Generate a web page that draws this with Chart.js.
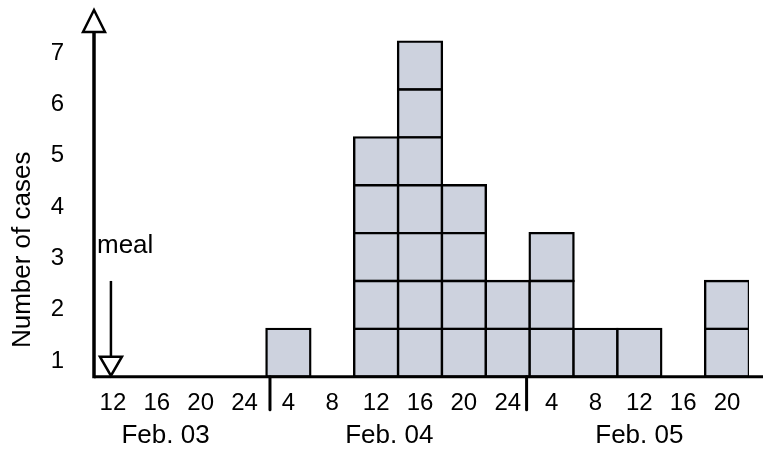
<!DOCTYPE html>
<html>
<head>
<meta charset="utf-8">
<script src="https://cdn.jsdelivr.net/npm/chart.js@4.4.1/dist/chart.umd.min.js"></script>
<style>
  html, body { margin: 0; padding: 0; background: #fff; }
  #wrap { width: 763px; height: 458px; }
</style>
</head>
<body>
<div id="wrap"><canvas id="c" width="763" height="458"></canvas></div>
<script>
// ---- data ----
const hourLabels = ['12','16','20','24','4','8','12','16','20','24','4','8','12','16','20'];
const caseCounts = [0, 0, 0, 0, 1, 0, 5, 7, 4, 2, 3, 1, 1, 0, 2];
const yTickLabels = [1, 2, 3, 4, 5, 6, 7];
const dayLabels = ['Feb. 03', 'Feb. 04', 'Feb. 05'];
const dayLabelPos = [1.2, 6.3, 12.0];
const dayBreaks = [3.58, 9.43];
const mealBin = 0;
const mealArrowTop = 2;
const mealTextY = 2.58;
const yTitle = 'Number of cases';
const yTitleAt = 2.65;

const maxCases = Math.max(...caseCounts);
const layers = [];
for (let k = 1; k <= maxCases; k++) {
  layers.push({
    label: 'case ' + k,
    data: caseCounts.map(c => (c >= k ? 1 : null)),
    xAxisID: 'x',
    yAxisID: 'y',
    backgroundColor: '#CDD2DE',
    borderColor: '#000',
    borderWidth: 2.4,
    inflateAmount: 1.2,
    borderSkipped: false,
    barPercentage: 1,
    categoryPercentage: 1
  });
}

const FONT = '"Liberation Sans", Arial, sans-serif';
Chart.defaults.font.family = FONT;
Chart.defaults.color = '#000';

function tri(ctx, cx, baseY, apexY, hw) {
  ctx.beginPath();
  ctx.moveTo(cx - hw, baseY);
  ctx.lineTo(cx + hw, baseY);
  ctx.lineTo(cx, apexY);
  ctx.closePath();
  ctx.fillStyle = '#fff';
  ctx.fill();
  ctx.stroke();
}

const deco = {
  id: 'deco',
  afterDatasetsDraw(chart) {
    const { ctx, chartArea: a, scales } = chart;
    const x = scales.x, y = scales.y;
    const base = y.getPixelForValue(0);
    const ax = a.left + 3;
    ctx.save();
    ctx.strokeStyle = '#000';
    ctx.lineJoin = 'miter';
    // x baseline
    ctx.lineWidth = 3;
    ctx.lineCap = 'butt';
    ctx.beginPath(); ctx.moveTo(ax, base); ctx.lineTo(chart.width, base); ctx.stroke();
    // midnight tick marks
    ctx.lineCap = 'round';
    dayBreaks.forEach(v => {
      const px = x.getPixelForValue(v);
      ctx.beginPath(); ctx.moveTo(px, base); ctx.lineTo(px, base + 33); ctx.stroke();
    });
    // y axis with open arrow head
    ctx.lineCap = 'butt';
    ctx.lineWidth = 3.5;
    ctx.beginPath(); ctx.moveTo(ax, base + 1.5); ctx.lineTo(ax, a.top); ctx.stroke();
    ctx.lineWidth = 2.5;
    tri(ctx, ax, a.top, a.top - 22, 11);
    // meal arrow
    const mx = x.getPixelForValue(mealBin) - 2;
    ctx.lineWidth = 2.5;
    ctx.beginPath(); ctx.moveTo(mx, y.getPixelForValue(mealArrowTop)); ctx.lineTo(mx, base - 20); ctx.stroke();
    tri(ctx, mx, base - 20, base - 1, 11);
    // texts
    ctx.fillStyle = '#000';
    ctx.font = '26px ' + FONT;
    ctx.textBaseline = 'alphabetic';
    ctx.textAlign = 'left';
    ctx.fillText('meal', ax + 3, y.getPixelForValue(mealTextY));
    ctx.textAlign = 'center';
    dayLabels.forEach((t, i) => {
      ctx.fillText(t, x.getPixelForValue(dayLabelPos[i]), base + 66.3);
    });
    ctx.translate(23, y.getPixelForValue(yTitleAt));
    ctx.rotate(-Math.PI / 2);
    ctx.textAlign = 'center';
    ctx.textBaseline = 'middle';
    ctx.fillText(yTitle, 0, 0);
    ctx.restore();
  }
};

new Chart(document.getElementById('c'), {
  type: 'bar',
  data: { labels: hourLabels, datasets: layers },
  plugins: [deco],
  options: {
    responsive: false,
    animation: false,
    layout: { padding: { top: 32, right: 14, bottom: 7.3, left: 0 } },
    plugins: { legend: { display: false }, tooltip: { enabled: false } },
    scales: {
      x: {
        type: 'category',
        stacked: true,
        offset: true,
        grid: { display: false, drawTicks: false },
        border: { display: false },
        ticks: { font: { size: 24 }, padding: 12, maxRotation: 0, autoSkip: false, color: '#000' },
        afterFit: s => { s.height = 74; }
      },
      y: {
        type: 'linear',
        position: 'left',
        stacked: true,
        min: 0,
        max: 7.2,
        grid: { display: false, drawTicks: false },
        border: { display: false },
        ticks: { display: false },
        afterFit: s => { s.width = 27; }
      },
      yLab: {
        type: 'linear',
        position: 'left',
        min: 0.695,
        max: 7.41,
        offset: false,
        beginAtZero: false,
        grid: { display: false, drawTicks: false },
        border: { display: false },
        afterBuildTicks: s => { s.ticks = yTickLabels.map(v => ({ value: v })); },
        ticks: { font: { size: 24 }, padding: 0, color: '#000', callback: v => String(v) },
        afterFit: s => { s.width = 64; }
      }
    }
  }
});
</script>
</body>
</html>
